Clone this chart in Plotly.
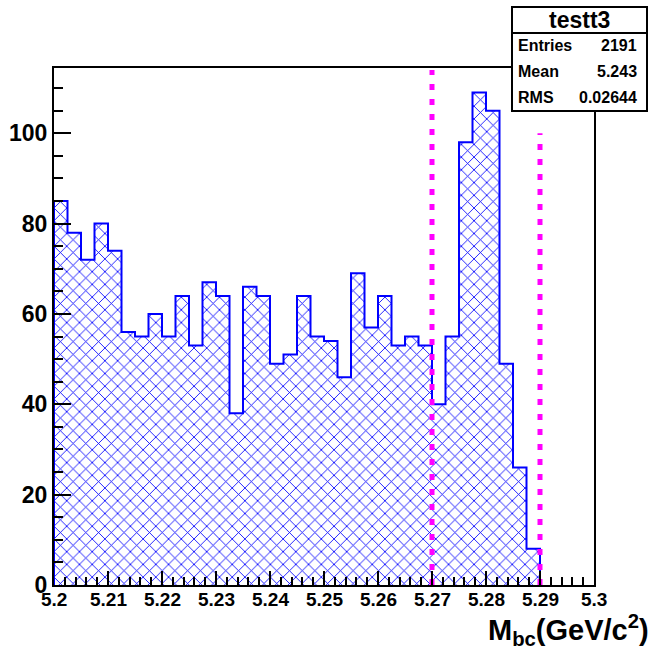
import plotly.graph_objects as go

# Histogram of M_bc: 40 bins between 5.2 and 5.3 GeV/c^2
X_MIN = 5.2
X_MAX = 5.3
N_BINS = 40
COUNTS = [85, 78, 72, 80, 74, 56, 55, 60, 55, 64,
          53, 67, 64, 38, 66, 64, 49, 51, 64, 55,
          54, 46, 69, 57, 64, 53, 55, 53, 40, 55,
          98, 109, 105, 49, 26, 8, 0, 0, 0, 0]

# Signal-window cut lines (position, height)
CUT_X = [5.27, 5.29]
CUT_TOP = [114, 100]

# Statistics box content
HIST_NAME = "testt3"
STAT_NAMES = ["Entries", "Mean", "RMS"]
STAT_VALUES = ["2191", "5.243", "0.02644"]

X_TICKS = [5.2, 5.21, 5.22, 5.23, 5.24, 5.25, 5.26, 5.27, 5.28, 5.29, 5.3]
X_TICK_TEXT = ["5.2", "5.21", "5.22", "5.23", "5.24", "5.25", "5.26", "5.27", "5.28", "5.29", "5.3"]
Y_TICKS = [0, 20, 40, 60, 80, 100]

bin_w = (X_MAX - X_MIN) / N_BINS
edges = [X_MIN + i * bin_w for i in range(N_BINS + 1)]
centers = [X_MIN + (i + 0.5) * bin_w for i in range(N_BINS)]
y_max = 1.05 * max(COUNTS)

W, H = 653, 649
PL, PR, PT, PB = 54, 594, 68, 585  # plot frame in pixels


def px_x(p):
    return (p - PL) / (PR - PL)


def px_y(p):
    return (PB - p) / (PB - PT)


FONT = "Liberation Sans, Arial, Helvetica, sans-serif"
BLUE = "#0000ff"

fig = go.Figure()

# hatched fill of the histogram
fig.add_trace(go.Bar(
    x=centers, y=COUNTS, width=bin_w,
    marker=dict(color="white", line=dict(width=0),
                pattern=dict(shape="x", size=9, solidity=0.18,
                             fgcolor=BLUE, bgcolor="white", fillmode="replace")),
    showlegend=False, hoverinfo="skip",
))

# outline of the histogram as a step curve, up to the last filled bin
last = max(i for i, c in enumerate(COUNTS) if c > 0)
step_x = [X_MIN] + edges[:last + 1] + [edges[last + 1], edges[last + 1]]
step_y = [0] + COUNTS[:last + 1] + [COUNTS[last], 0]
fig.add_trace(go.Scatter(
    x=step_x, y=step_y, mode="lines", line=dict(shape="hv", color=BLUE, width=2),
    showlegend=False, hoverinfo="skip",
))

# dashed cut lines
for cx, top in zip(CUT_X, CUT_TOP):
    fig.add_trace(go.Scatter(
        x=[cx, cx], y=[0, top], mode="lines",
        line=dict(color="#ff00ff", width=5, dash="6px,9px"),
        showlegend=False, hoverinfo="skip",
    ))

axis_common = dict(
    showline=True, linecolor="black", linewidth=2, mirror=True, automargin=False,
    showgrid=False, zeroline=False, ticks="inside", tickcolor="black",
    tickwidth=2,
)

fig.update_xaxes(
    range=[X_MIN, X_MAX], tickvals=X_TICKS, ticklen=14, showticklabels=False,
    minor=dict(ticks="inside", dtick=0.002, ticklen=8, tickwidth=2, tickcolor="black"),
    **axis_common,
)
fig.update_yaxes(
    range=[0, y_max], tickvals=Y_TICKS, ticklen=17, ticklabelstandoff=0,
    tickfont=dict(family=FONT, size=23, color="black", weight="bold"),
    minor=dict(ticks="inside", dtick=5, ticklen=9, tickwidth=2, tickcolor="black"),
    **axis_common,
)

shapes = []
annotations = []

# x tick labels, set just below the frame
for tv, tt in zip(X_TICKS, X_TICK_TEXT):
    annotations.append(dict(text="<b>%s</b>" % tt, xref="x", yref="paper",
                            x=tv, y=px_y(587), xanchor="center", yanchor="top",
                            showarrow=False, font=dict(family=FONT, size=19, color="black")))

# statistics box
bx0, bx1, by0, by1, sep = 512, 647, 7, 111, 33
shapes.append(dict(type="rect", xref="paper", yref="paper",
                   x0=px_x(bx0), x1=px_x(bx1), y0=px_y(by1), y1=px_y(by0),
                   line=dict(color="black", width=2), fillcolor="white", layer="above"))
shapes.append(dict(type="line", xref="paper", yref="paper",
                   x0=px_x(bx0), x1=px_x(bx1), y0=px_y(sep), y1=px_y(sep),
                   line=dict(color="black", width=2), layer="above"))
annotations.append(dict(text="<b>%s</b>" % HIST_NAME, xref="paper", yref="paper",
                        x=px_x((bx0 + bx1) / 2), y=px_y(20), xanchor="center", yanchor="middle",
                        showarrow=False, font=dict(family=FONT, size=23, color="black")))
for i, (name, val) in enumerate(zip(STAT_NAMES, STAT_VALUES)):
    yc = 46 + i * 26
    annotations.append(dict(text="<b>%s</b>" % name, xref="paper", yref="paper",
                            x=px_x(516), y=px_y(yc), xanchor="left", yanchor="middle",
                            showarrow=False, font=dict(family=FONT, size=16, color="black")))
    annotations.append(dict(text="<b>%s</b>" % val, xref="paper", yref="paper",
                            x=px_x(639), y=px_y(yc), xanchor="right", yanchor="middle",
                            showarrow=False, font=dict(family=FONT, size=16, color="black")))

# x-axis title at the lower right
annotations.append(dict(text="<b>M<sub>bc</sub>(GeV/c<sup>2</sup>)</b>", xref="paper", yref="paper",
                        x=px_x(651), y=px_y(608), xanchor="right", yanchor="top",
                        showarrow=False, font=dict(family=FONT, size=29, color="black")))

fig.update_layout(
    width=W, height=H,
    margin=dict(l=PL, r=W - PR, t=PT, b=H - PB, pad=0, autoexpand=False),
    paper_bgcolor="white", plot_bgcolor="white",
    bargap=0, shapes=shapes, annotations=annotations,
    showlegend=False,
)

fig.write_html("out.html")
